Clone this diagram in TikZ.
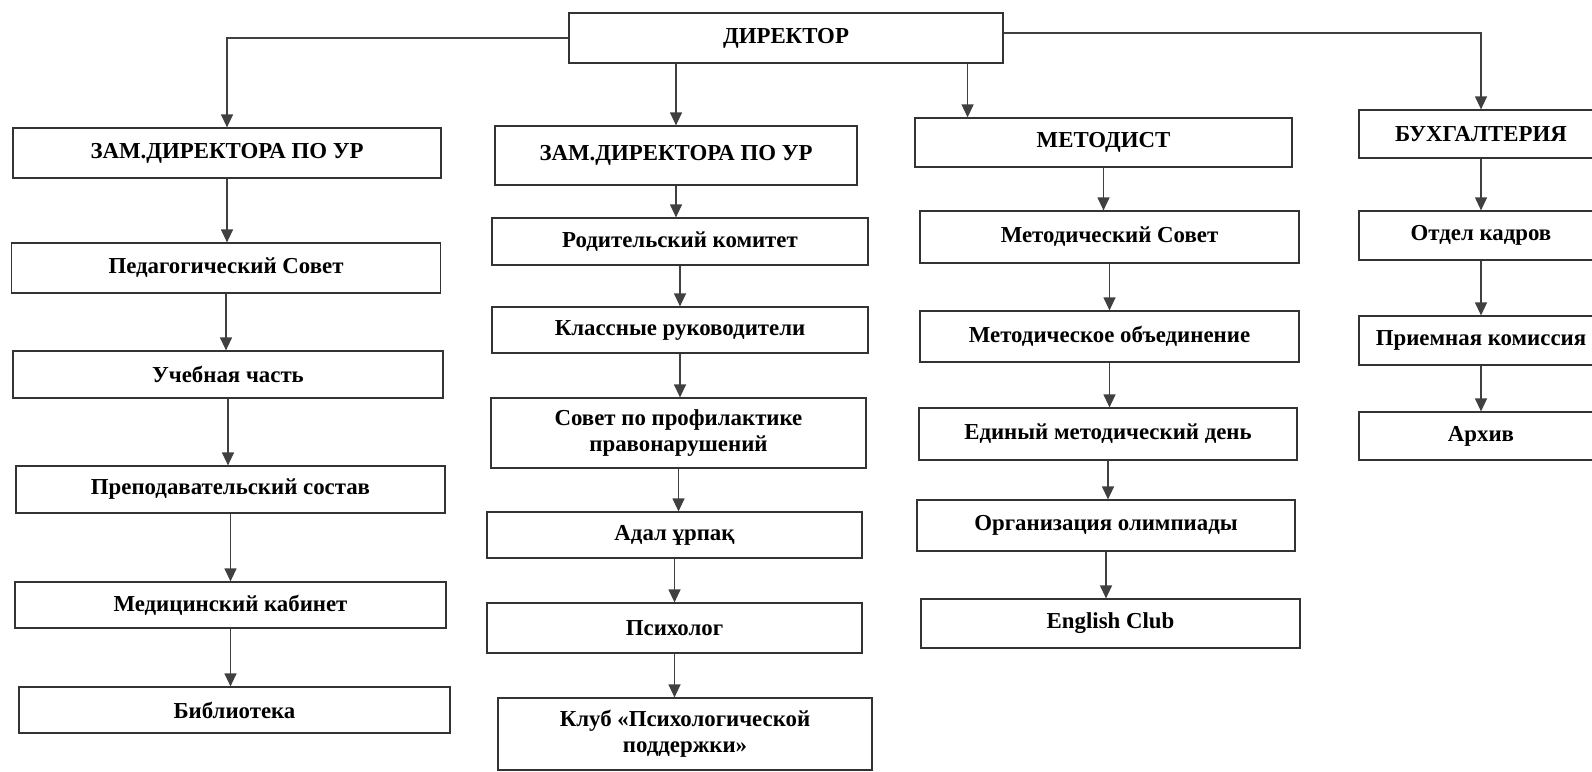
\documentclass[tikz,border=0pt]{standalone}
\usepackage{fontspec}
\setmainfont{Liberation Serif}
\usetikzlibrary{arrows.meta}
\tikzset{
	box/.style={draw=black!80, line width=0.7pt, rectangle, inner sep=2pt, align=center, font=\bfseries\fontsize{13}{15}\selectfont},
	arr/.style={draw=black!75, line width=0.7pt, -{Triangle[length=2.6mm,width=2.4mm]}}
}

\begin{document}
\begin{tikzpicture}[x=0.02cm, y=-0.02cm]
				\useasboundingbox (0,0) rectangle (1592,771);
				
				\node[box, minimum width=8.68cm, minimum height=1cm] (dir) at (786,38) {ДИРЕКТОР};
				
				% left column
				\node[box, minimum width=8.56cm, minimum height=1cm] (zam1) at (227,153) {ЗАМ.ДИРЕКТОРА ПО УР};
				\node[box, minimum width=8.58cm, minimum height=1cm] (ped) at (226,268) {Педагогический Совет};
				\node[box, minimum width=8.6cm, minimum height=0.94cm] (ucheb) at (228,374.5) {Учебная часть};
				\node[box, minimum width=8.58cm, minimum height=0.94cm] (prep) at (230.5,489.5) {Преподавательский состав};
				\node[box, minimum width=8.62cm, minimum height=0.92cm] (med) at (230.5,605) {Медицинский кабинет};
				\node[box, minimum width=8.62cm, minimum height=0.92cm] (bibl) at (234.5,710) {Библиотека};
				
				% second column
				\node[box, minimum width=7.24cm, minimum height=1.18cm] (zam2) at (676,155.5) {ЗАМ.ДИРЕКТОРА ПО УР};
				\node[box, minimum width=7.52cm, minimum height=0.94cm] (rod) at (680,241.5) {Родительский комитет};
				\node[box, minimum width=7.52cm, minimum height=0.92cm] (klass) at (680,330) {Классные руководители};
				\node[box, minimum width=7.5cm, minimum height=1.4cm] (sovet) at (678.5,433) {Совет по профилактике\\правонарушений};
				\node[box, minimum width=7.5cm, minimum height=0.92cm] (adal) at (674.5,535) {Адал ұрпақ};
				\node[box, minimum width=7.5cm, minimum height=1cm] (psih) at (674.5,628) {Психолог};
				\node[box, minimum width=7.48cm, minimum height=1.44cm] (klub) at (685,734) {Клуб «Психологической\\поддержки»};
				
				% third column
				\node[box, minimum width=7.54cm, minimum height=0.98cm] (metod) at (1103.5,142.5) {МЕТОДИСТ};
				\node[box, minimum width=7.58cm, minimum height=1.04cm] (msovet) at (1109.5,237) {Методический Совет};
				\node[box, minimum width=7.58cm, minimum height=1.02cm] (mo) at (1109.5,336.5) {Методическое объединение};
				\node[box, minimum width=7.56cm, minimum height=1.04cm] (emd) at (1108,434) {Единый методический день};
				\node[box, minimum width=7.56cm, minimum height=1.02cm] (olimp) at (1106,525.5) {Организация олимпиады};
				\node[box, minimum width=7.58cm, minimum height=0.98cm] (eng) at (1110.5,623.5) {English Club};
				
				% right column
				\node[box, minimum width=4.88cm, minimum height=0.96cm] (buh) at (1481,134) {БУХГАЛТЕРИЯ};
				\node[box, minimum width=4.88cm, minimum height=0.98cm] (kadr) at (1481,235.5) {Отдел кадров};
				\node[box, minimum width=4.88cm, minimum height=0.98cm] (priem) at (1481,340.5) {Приемная комиссия};
				\node[box, minimum width=4.88cm, minimum height=0.96cm] (arhiv) at (1481,436) {Архив};
				
				\draw[arr] (dir.west) -| (zam1.north);
				\draw[arr] ([yshift=0.1cm]dir.east) -| (buh.north);
				\draw[arr] (dir.south -| zam2.north) -- (zam2.north);
				\draw[arr] ([xshift=-0.72cm]dir.south east) -- ([xshift=-0.72cm]dir.south east |- metod.north);
				
				\draw[arr] (zam1) -- (zam1 |- ped.north);
				\draw[arr] (ped) -- (ped |- ucheb.north);
				\draw[arr] (ucheb) -- (ucheb |- prep.north);
				\draw[arr] (prep) -- (prep |- med.north);
				\draw[arr] (med) -- (med |- bibl.north);
				
				\draw[arr] (zam2) -- (zam2 |- rod.north);
				\draw[arr] (rod) -- (rod |- klass.north);
				\draw[arr] (klass) -- (klass |- sovet.north);
				\draw[arr] (sovet) -- (sovet |- adal.north);
				\draw[arr] (adal) -- (adal |- psih.north);
				\draw[arr] (psih) -- (psih |- klub.north);
				
				\draw[arr] (metod) -- (metod |- msovet.north);
				\draw[arr] (msovet) -- (msovet |- mo.north);
				\draw[arr] (mo) -- (mo |- emd.north);
				\draw[arr] (emd) -- (emd |- olimp.north);
				\draw[arr] (olimp) -- (olimp |- eng.north);
				
				\draw[arr] (buh) -- (kadr);
				\draw[arr] (kadr) -- (priem);
				\draw[arr] (priem) -- (arhiv);
			\end{tikzpicture}
\end{document}
